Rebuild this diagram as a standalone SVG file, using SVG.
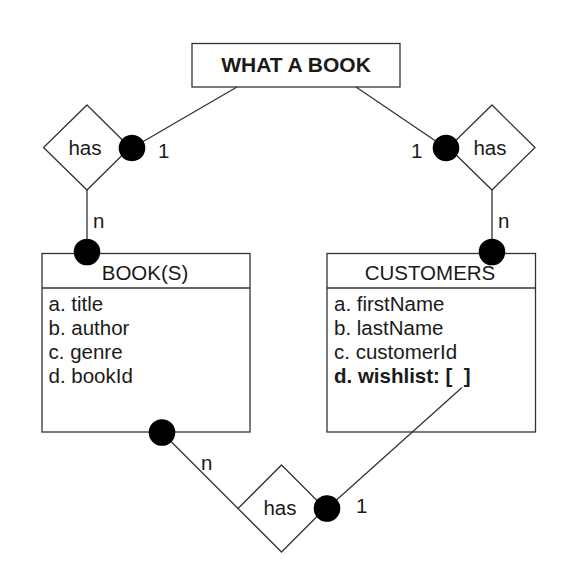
<svg xmlns="http://www.w3.org/2000/svg" width="580" height="586" viewBox="0 0 580 586">
<style>
.shape{fill:#fff;stroke:#333;stroke-width:1.3}
.line{fill:none;stroke:#333;stroke-width:1.3}
text{font-family:"Liberation Sans",Arial,sans-serif;font-size:20.5px;fill:#1a1a1a}
.b{font-weight:bold}
.c{text-anchor:middle}
.pre{white-space:pre}
</style>
<defs>
<marker id="dot" markerUnits="userSpaceOnUse" viewBox="0 0 28 28" refX="14" refY="14" markerWidth="28" markerHeight="28" orient="auto">
<circle cx="14" cy="14" r="13.3" fill="#000"/>
</marker>
</defs>
<rect width="580" height="586" fill="#fff"/>
<g id="what-a-book">
<rect class="shape" x="192" y="43.5" width="208" height="43.5"/>
<text class="b c" x="296" y="72" style="font-size:21px">WHAT A BOOK</text>
</g>
<g id="has-left">
<polygon class="shape" points="87,105 130,147.5 87,190 43.5,147.5"/>
<text class="c" x="85" y="155">has</text>
</g>
<g id="has-right">
<polygon class="shape" points="492,105 535,147.5 492,190 448.5,147.5"/>
<text class="c" x="490" y="155">has</text>
</g>
<g id="has-bottom">
<polygon class="shape" points="281.5,465 325,508.5 281.5,552 238,508.5"/>
<text class="c" x="280" y="515">has</text>
</g>
<g id="books">
<rect class="shape" x="42" y="253.5" width="208" height="178.5"/>
<line class="line" x1="42" y1="288" x2="250" y2="288"/>
<text class="c" x="145" y="280">BOOK(S)</text>
<text x="48.5" y="311">a. title</text>
<text x="48.5" y="335">b. author</text>
<text x="48.5" y="358.5">c. genre</text>
<text x="48.5" y="382.5">d. bookId</text>
</g>
<g id="customers">
<rect class="shape" x="327" y="253.5" width="208.5" height="178.5"/>
<line class="line" x1="327" y1="288" x2="535.5" y2="288"/>
<text class="c" x="430" y="280">CUSTOMERS</text>
<text x="334" y="311">a. firstName</text>
<text x="334" y="335">b. lastName</text>
<text x="334" y="358.5">c. customerId</text>
<text class="b pre" x="334" y="382.5">d. wishlist: [  ]</text>
</g>
<g id="connectors">
<line class="line" x1="237" y1="87" x2="132" y2="148" marker-end="url(#dot)"/>
<line class="line" x1="356" y1="87" x2="446" y2="148" marker-end="url(#dot)"/>
<line class="line" x1="87" y1="190" x2="87" y2="252" marker-end="url(#dot)"/>
<line class="line" x1="492" y1="190" x2="492" y2="252" marker-end="url(#dot)"/>
<line class="line" x1="238" y1="508.5" x2="162" y2="432.5" marker-end="url(#dot)"/>
<line class="line" x1="462" y1="387.5" x2="327" y2="508.5" marker-end="url(#dot)"/>
<text x="158" y="158">1</text>
<text x="411" y="158">1</text>
<text x="93" y="228">n</text>
<text x="498" y="228">n</text>
<text x="201" y="470">n</text>
<text x="356" y="513">1</text>
</g>
</svg>
